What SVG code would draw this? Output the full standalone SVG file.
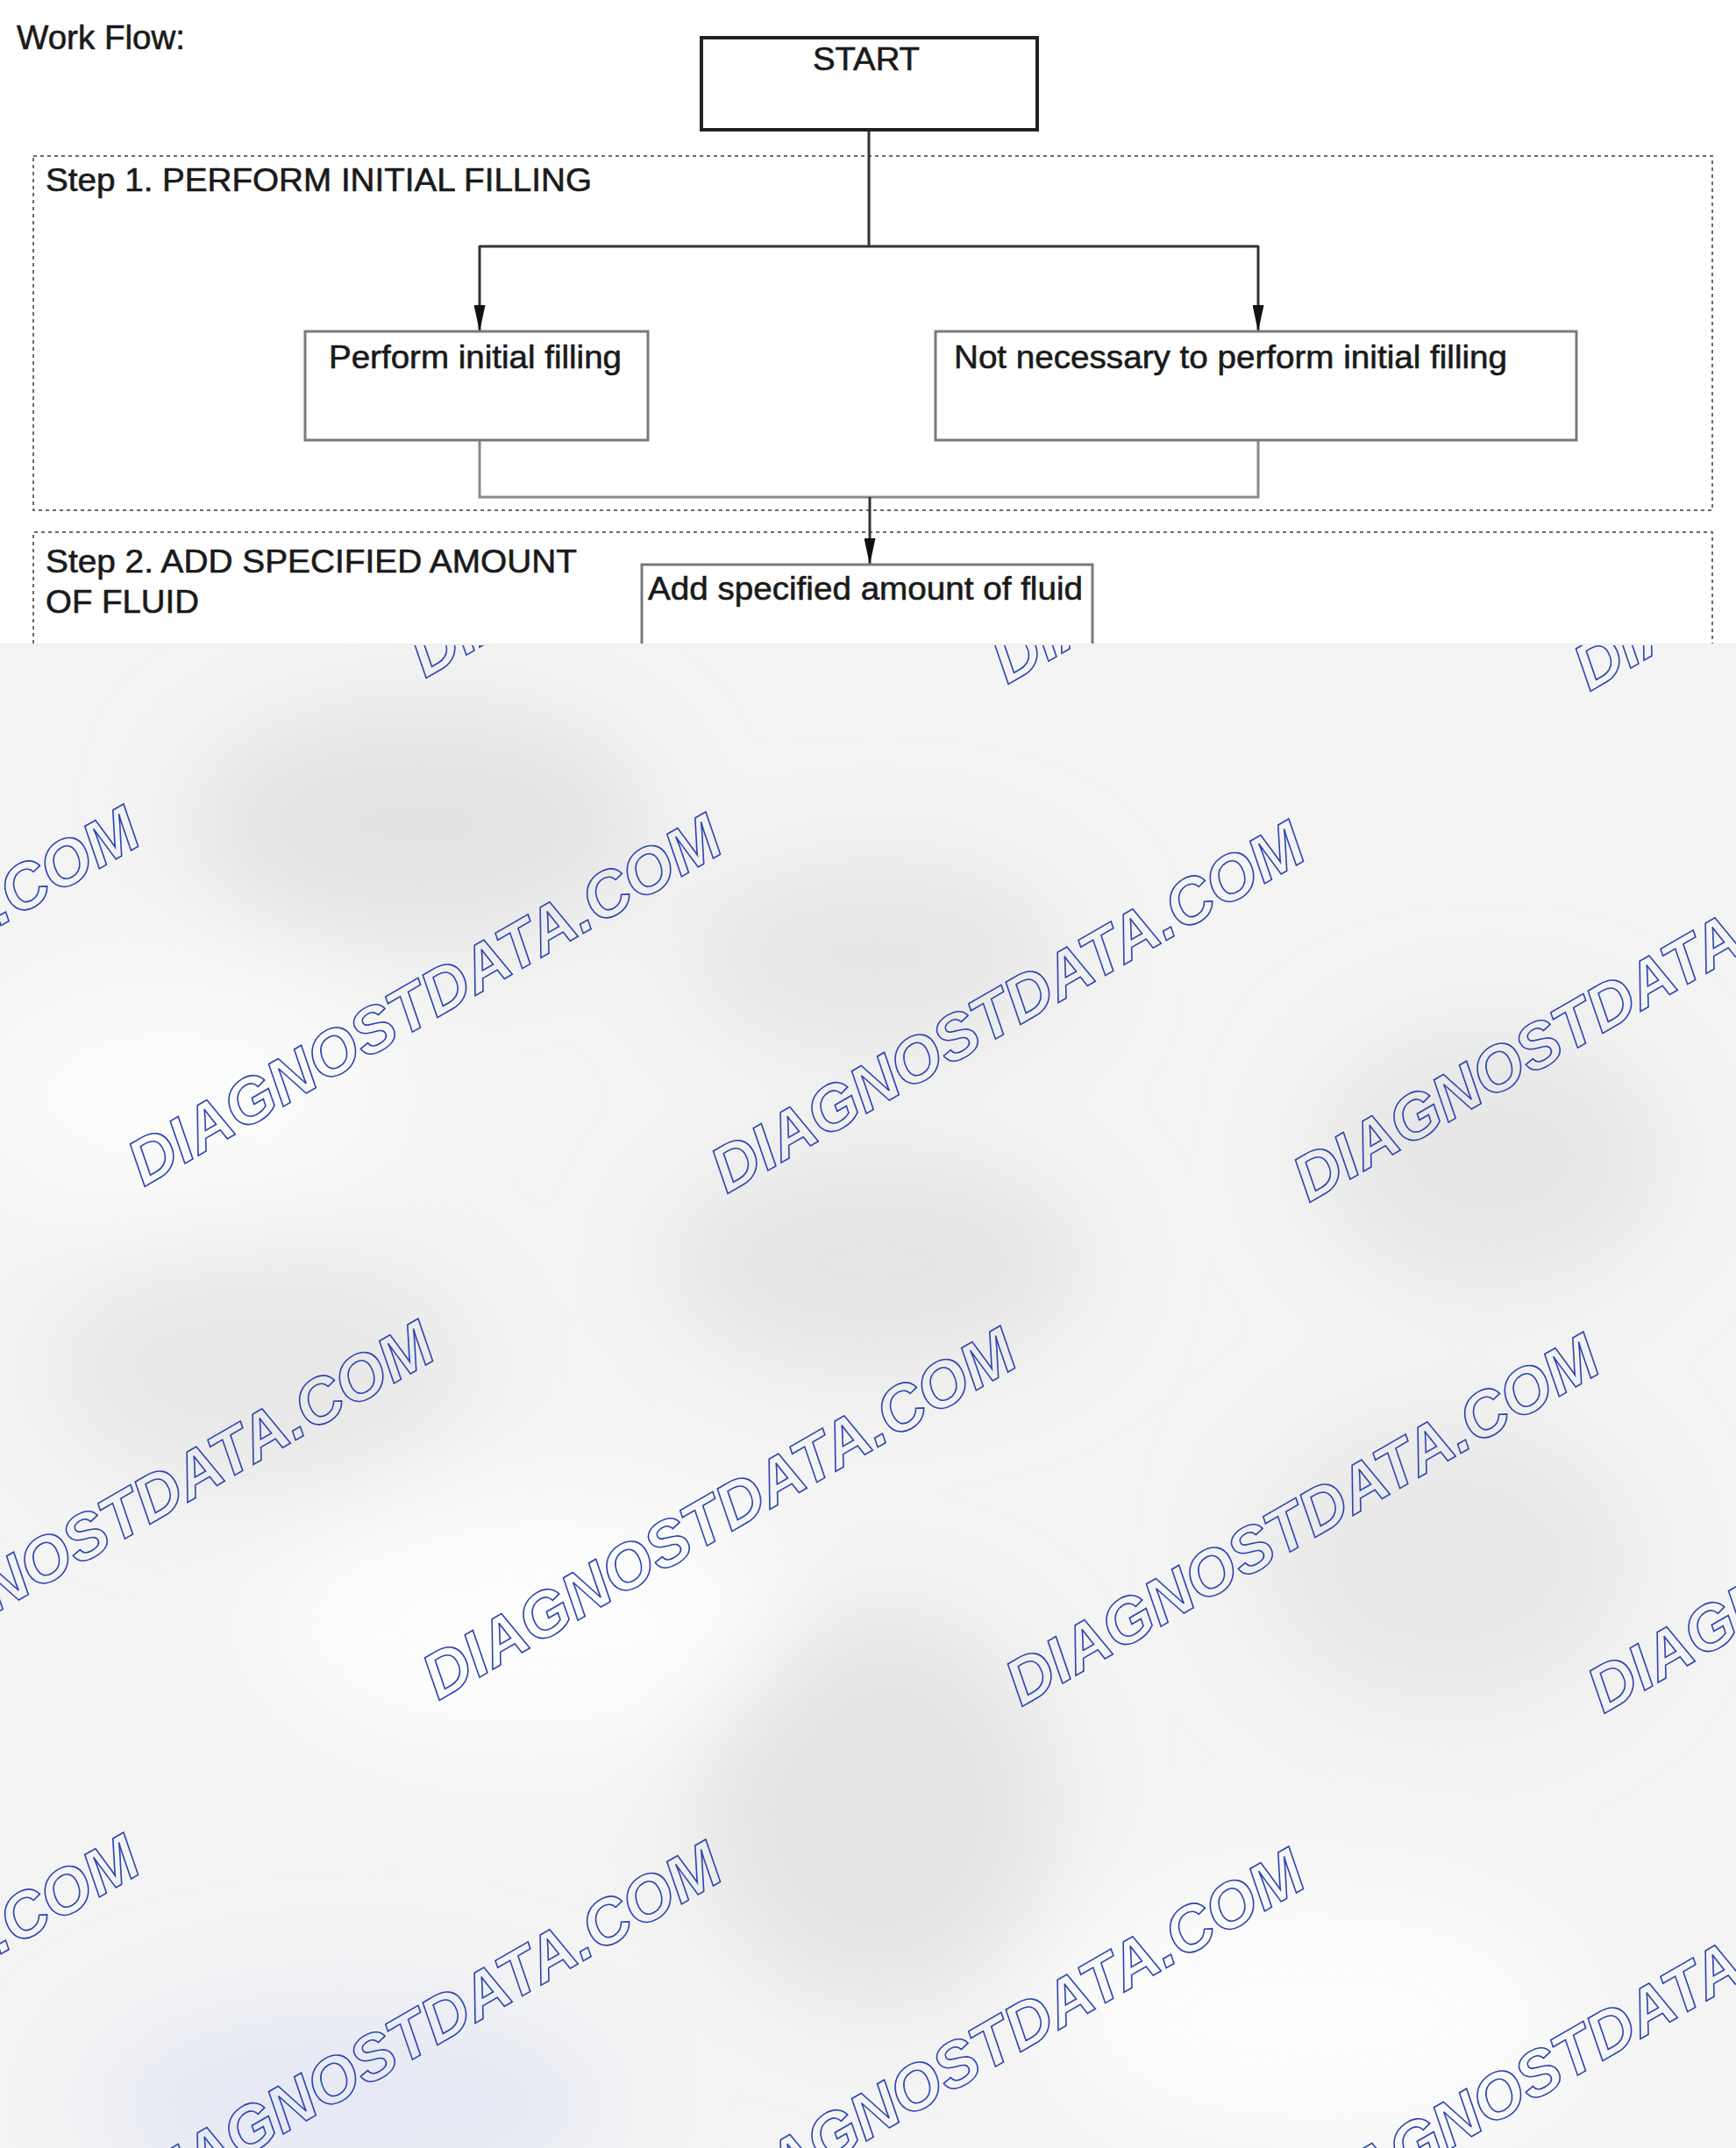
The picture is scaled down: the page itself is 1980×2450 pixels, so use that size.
<svg xmlns="http://www.w3.org/2000/svg" width="1980" height="2450" viewBox="0 0 1980 2450">
<style>
.t{font-family:"Liberation Sans",Arial,sans-serif;fill:#1a1a1a;stroke:#1a1a1a;stroke-width:0.6}
.box{fill:#fff;stroke:#7a7a7a;stroke-width:3}
.dash{fill:none;stroke:#6a6a6a;stroke-width:2;stroke-dasharray:4 4}
.ln{fill:none;stroke:#333;stroke-width:3}
.lg{fill:none;stroke:#8a8a8a;stroke-width:3}
.wm{font-family:"Liberation Sans",Arial,sans-serif;font-weight:bold;font-style:italic;font-size:73px;fill:none;stroke:#2a45b0;stroke-width:1.6}
</style>
<defs>
<marker id="ah" viewBox="0 0 30 13" refX="30" refY="6.5" markerWidth="30" markerHeight="13" markerUnits="userSpaceOnUse" orient="auto">
<path d="M0,0 L30,6.5 L0,13 Z" fill="#111"/>
</marker>
<filter id="bl" x="-50%" y="-50%" width="200%" height="200%"><feGaussianBlur stdDeviation="60"/></filter>
</defs>
<g id="background">
<rect x="0" y="0" width="1980" height="2450" fill="#f4f4f4"/>
<g filter="url(#bl)">
<ellipse cx="480" cy="940" rx="260" ry="130" fill="#e2e2e2"/>
<ellipse cx="1000" cy="1090" rx="220" ry="110" fill="#e6e6e6"/>
<ellipse cx="1000" cy="1440" rx="240" ry="120" fill="#e4e4e4"/>
<ellipse cx="1700" cy="1320" rx="200" ry="150" fill="#e6e6e6"/>
<ellipse cx="1650" cy="1780" rx="220" ry="170" fill="#e8e8e8"/>
<ellipse cx="1000" cy="2060" rx="200" ry="220" fill="#e3e3e3"/>
<ellipse cx="300" cy="1560" rx="250" ry="140" fill="#e8e8e8"/>
<ellipse cx="600" cy="1850" rx="300" ry="150" fill="#fdfdfd"/>
<ellipse cx="1500" cy="2300" rx="300" ry="150" fill="#fdfdfd"/>
<ellipse cx="400" cy="2400" rx="300" ry="120" fill="#e6e9f4"/>
<ellipse cx="200" cy="1250" rx="250" ry="150" fill="#fbfbfb"/>
</g>
</g>
<g id="watermarks">
<text class="wm" transform="translate(-179,766) rotate(-30)">DIAGNOSTDATA.COM</text>
<text class="wm" transform="translate(485,774) rotate(-30)">DIAGNOSTDATA.COM</text>
<text class="wm" transform="translate(1149,781) rotate(-30)">DIAGNOSTDATA.COM</text>
<text class="wm" transform="translate(1813,789) rotate(-30)">DIAGNOSTDATA.COM</text>
<text class="wm" transform="translate(-500,1345) rotate(-30)">DIAGNOSTDATA.COM</text>
<text class="wm" transform="translate(164,1354) rotate(-30)">DIAGNOSTDATA.COM</text>
<text class="wm" transform="translate(829,1362) rotate(-30)">DIAGNOSTDATA.COM</text>
<text class="wm" transform="translate(1493,1372) rotate(-30)">DIAGNOSTDATA.COM</text>
<text class="wm" transform="translate(-164,1932) rotate(-30)">DIAGNOSTDATA.COM</text>
<text class="wm" transform="translate(500,1940) rotate(-30)">DIAGNOSTDATA.COM</text>
<text class="wm" transform="translate(1165,1947) rotate(-30)">DIAGNOSTDATA.COM</text>
<text class="wm" transform="translate(1829,1955) rotate(-30)">DIAGNOSTDATA.COM</text>
<text class="wm" transform="translate(-500,2518) rotate(-30)">DIAGNOSTDATA.COM</text>
<text class="wm" transform="translate(164,2526) rotate(-30)">DIAGNOSTDATA.COM</text>
<text class="wm" transform="translate(829,2534) rotate(-30)">DIAGNOSTDATA.COM</text>
<text class="wm" transform="translate(1493,2544) rotate(-30)">DIAGNOSTDATA.COM</text>
</g>
<rect x="0" y="0" width="1980" height="734" fill="#fff"/>
<text class="t" x="19" y="56" font-size="38" textLength="192" lengthAdjust="spacingAndGlyphs">Work Flow:</text>
<g id="step1">
<rect class="dash" x="38" y="178" width="1915" height="404"/>
<text class="t" x="52" y="218" font-size="37" textLength="623" lengthAdjust="spacingAndGlyphs">Step 1. PERFORM INITIAL FILLING</text>
</g>
<g id="step2">
<path class="dash" d="M38,734 V607 H1953 V734"/>
<text class="t" x="52" y="653" font-size="37" textLength="606" lengthAdjust="spacingAndGlyphs">Step 2. ADD SPECIFIED AMOUNT</text>
<text class="t" x="52" y="699" font-size="37" textLength="175" lengthAdjust="spacingAndGlyphs">OF FLUID</text>
</g>
<g id="connectors">
<path class="ln" d="M991,148 V281 M547,281 H1435"/>
<path class="ln" d="M547,280 V378" marker-end="url(#ah)"/>
<path class="ln" d="M1435,280 V378" marker-end="url(#ah)"/>
<path class="lg" d="M547,502 V567 H1435 V502"/>
<path class="ln" d="M992,567 V644" marker-end="url(#ah)"/>
</g>
<g id="start">
<rect x="800" y="43" width="383" height="105" fill="#fff" stroke="#222" stroke-width="4"/>
<text class="t" x="988" y="80" font-size="37" text-anchor="middle" textLength="122" lengthAdjust="spacingAndGlyphs">START</text>
</g>
<g id="perform">
<rect class="box" x="348" y="378" width="391" height="124"/>
<text class="t" x="375" y="420" font-size="37" textLength="334" lengthAdjust="spacingAndGlyphs">Perform initial filling</text>
</g>
<g id="notnecessary">
<rect class="box" x="1067" y="378" width="731" height="124"/>
<text class="t" x="1088" y="420" font-size="37" textLength="631" lengthAdjust="spacingAndGlyphs">Not necessary to perform initial filling</text>
</g>
<g id="addfluid">
<path class="box" d="M732,736 V644 H1246 V736"/>
<text class="t" x="739" y="684" font-size="37" textLength="496" lengthAdjust="spacingAndGlyphs">Add specified amount of fluid</text>
</g>
<rect x="0" y="734" width="1980" height="2" fill="#f0f0f0"/>
</svg>
